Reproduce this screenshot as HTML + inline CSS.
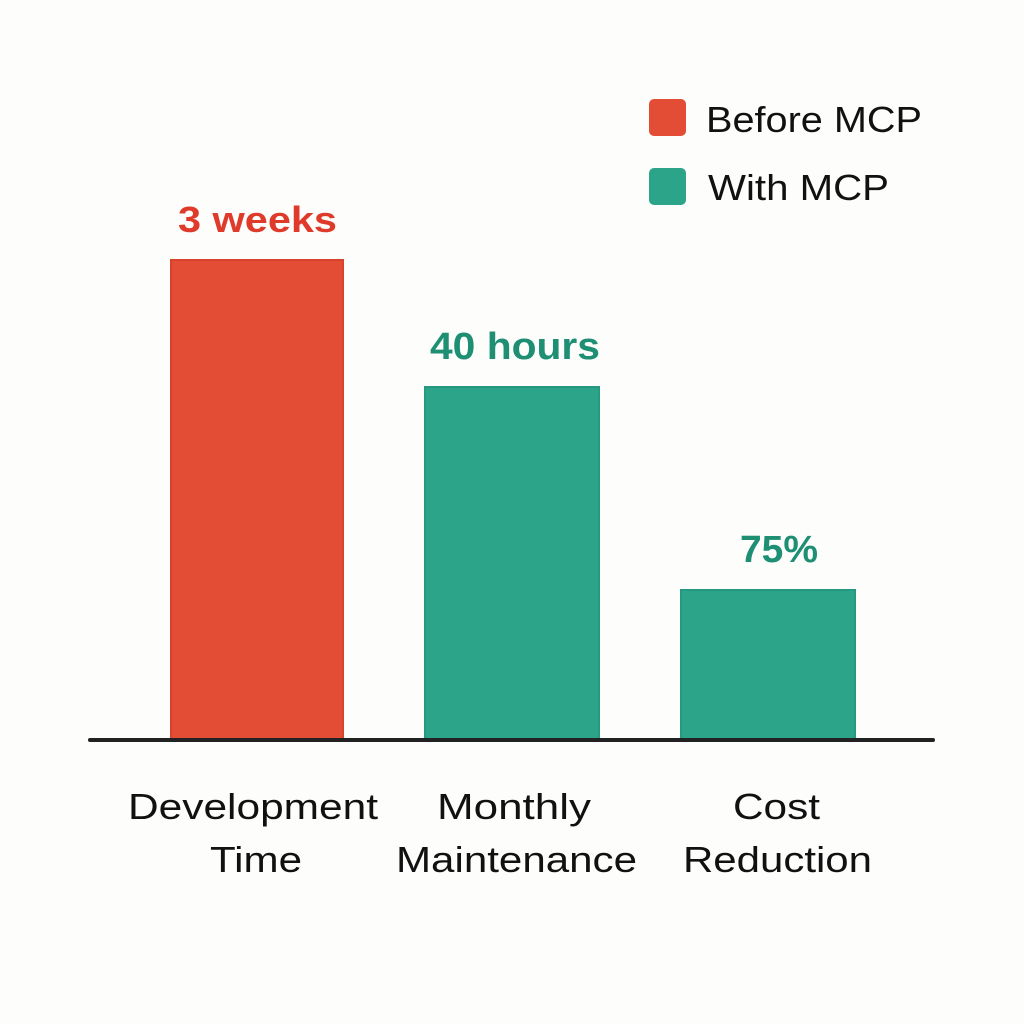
<!DOCTYPE html>
<html><head><style>
html,body{margin:0;padding:0;background:#fdfdfc;}
svg{display:block}
text{font-family:"Liberation Sans","DejaVu Sans",sans-serif}
</style></head><body>
<svg width="1024" height="1024" viewBox="0 0 1024 1024">
<rect width="1024" height="1024" fill="#fdfdfc"/>
<rect x="171" y="260" width="172" height="480" fill="#e34d36" stroke="#d8432e" stroke-width="2"/>
<rect x="425" y="387" width="174" height="353" fill="#2ca48a" stroke="#24997f" stroke-width="2"/>
<rect x="681" y="590" width="174" height="150" fill="#2ca48a" stroke="#24997f" stroke-width="2"/>
<line x1="90" y1="740" x2="933" y2="740" stroke="#222" stroke-width="4" stroke-linecap="round"/>
<g lengthAdjust="spacingAndGlyphs">
<text x="178" y="232" textLength="159" lengthAdjust="spacingAndGlyphs" font-size="36" font-weight="bold" fill="#df3b2b">3 weeks</text>
<text x="430" y="359" textLength="170" lengthAdjust="spacingAndGlyphs" font-size="38" font-weight="bold" fill="#1f8f74">40 hours</text>
<text x="740" y="562" textLength="78" lengthAdjust="spacingAndGlyphs" font-size="38" font-weight="bold" fill="#1f8f74">75%</text>
</g>
<g font-size="36" fill="#111">
<text x="128" y="819" textLength="250" lengthAdjust="spacingAndGlyphs">Development</text>
<text x="210" y="872" textLength="92" lengthAdjust="spacingAndGlyphs">Time</text>
<text x="437" y="819" textLength="154" lengthAdjust="spacingAndGlyphs">Monthly</text>
<text x="396" y="872" textLength="241" lengthAdjust="spacingAndGlyphs">Maintenance</text>
<text x="733" y="819" textLength="87" lengthAdjust="spacingAndGlyphs">Cost</text>
<text x="683" y="872" textLength="189" lengthAdjust="spacingAndGlyphs">Reduction</text>
</g>
<rect x="649" y="99" width="37" height="37" rx="5" fill="#e34d36"/>
<rect x="649" y="168" width="37" height="37" rx="5" fill="#2ca48a"/>
<text x="706" y="132" font-size="36" fill="#111" textLength="216" lengthAdjust="spacingAndGlyphs">Before MCP</text>
<text x="708" y="200" font-size="36" fill="#111" textLength="181" lengthAdjust="spacingAndGlyphs">With MCP</text>
</svg>
</body></html>
